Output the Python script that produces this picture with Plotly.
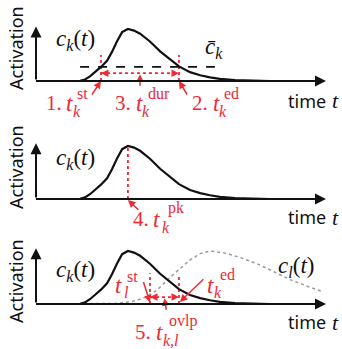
import plotly.graph_objects as go

W, H = 342, 349

# ---------------- data (time in arbitrary units, activation normalised) ----------------
t_ck = [0, 1.17, 1.52, 1.69, 1.86, 2.03, 2.24, 2.45, 2.62, 2.79, 2.97, 3.17, 3.38, 3.59,
        3.93, 4.28, 4.62, 4.93, 5.31, 5.66, 6.00, 6.34, 6.86, 7.38, 8.07, 9.0]
ck = [0, 0, 0.005, 0.03, 0.09, 0.17, 0.27, 0.39, 0.56, 0.76, 0.94, 1.0, 0.97, 0.91,
      0.76, 0.57, 0.41, 0.28, 0.17, 0.11, 0.07, 0.04, 0.015, 0.005, 0, 0]

t_cl = [0, 2.21, 2.72, 3.34, 3.76, 4.17, 4.72, 5.31, 5.66, 6.0, 6.52, 7.03, 7.62,
        8.24, 8.76, 9.38, 9.9]
cl = [0, 0, 0.01, 0.05, 0.12, 0.26, 0.55, 0.83, 0.95, 1.0, 0.96, 0.88, 0.76,
      0.6, 0.46, 0.33, 0.23]

threshold = 0.27
threshold_span = [1.52, 6.17]
t_st = 2.24
t_ed = 4.93
t_pk = 3.17
t_l_st = 3.93
t_end = 10.0
y_arrow_top = 1.05

# ---------------- layout helpers ----------------
PX0, SX = 36, 29.0
bases = [81, 199, 304]
scales = [52, 53, 53]
tops = [0, 118, 236]
bottoms = [118, 236, 349]

RED = "#ee2a35"
BLACK = "#111111"
SERIF = "Liberation Serif"
SANS = "Noto Sans"

fig = go.Figure()
layout = dict(width=W, height=H, margin=dict(l=0, r=0, t=0, b=0),
              paper_bgcolor="white", plot_bgcolor="white", showlegend=False)
for i in range(3):
    n = "" if i == 0 else str(i + 1)
    hi = (bases[i] - tops[i]) / scales[i]
    lo = -(bottoms[i] - bases[i]) / scales[i]
    layout["xaxis" + n] = dict(range=[-PX0 / SX, (W - PX0) / SX], domain=[0, 1],
                               visible=False, anchor="y" + n, fixedrange=True)
    layout["yaxis" + n] = dict(range=[lo, hi], domain=[1 - bottoms[i] / H, 1 - tops[i] / H],
                               visible=False, anchor="x" + n, fixedrange=True)
fig.update_layout(**layout)

ann = []


def P(px, py):
    return px / W, 1 - py / H


def text(s, px, py, size=20, color=RED, font=SERIF, xanchor="left", angle=0):
    x, y = P(px, py)
    ann.append(dict(text=s, x=x, y=y, xref="paper", yref="paper", showarrow=False,
                    xanchor=xanchor, yanchor="middle", textangle=angle, borderpad=0,
                    font=dict(size=size, color=color, family=font)))


def arrow(i, x, y, ax, ay, color=RED, width=1.5, head=2, size=1.0):
    n = "" if i == 0 else str(i + 1)
    ann.append(dict(text="", x=x, y=y, xref="x" + n, yref="y" + n, showarrow=True,
                    ax=ax, ay=ay, arrowcolor=color, arrowwidth=width, arrowhead=head,
                    arrowsize=size, standoff=0))


def axis_arrow(i, x, y, x0, y0):
    n = "" if i == 0 else str(i + 1)
    ann.append(dict(text="", x=x, y=y, ax=x0, ay=y0, xref="x" + n, yref="y" + n,
                    axref="x" + n, ayref="y" + n, showarrow=True, arrowcolor=BLACK,
                    arrowwidth=2, arrowhead=2, arrowsize=1.1, standoff=0))


def line(i, xs, ys, color=BLACK, width=2, dash="solid"):
    n = "" if i == 0 else str(i + 1)
    fig.add_trace(go.Scatter(x=xs, y=ys, mode="lines", xaxis="x" + n, yaxis="y" + n,
                             line=dict(color=color, width=width, dash=dash), hoverinfo="skip"))


def tlabel(prefix, sup, sub, x_pre, x_t, x_sup, x_sub, y_main, y_sup, y_sub):
    if prefix:
        text(prefix, x_pre, y_main, size=21)
    text("<i>t</i>", x_t, y_main, size=23)
    text(sup, x_sup, y_sup, size=16)
    text("<i>" + sub + "</i>", x_sub, y_sub, size=16)


# ---------------- panel 1 ----------------
line(0, [t_st, t_st], [0, 0.5], RED, 1.8, "dot")
line(0, [t_ed, t_ed], [0, 0.5], RED, 1.8, "dot")
line(0, [t_st, t_ed], [0.15, 0.15], RED, 1.8, "dot")
line(0, threshold_span, [threshold, threshold], BLACK, 1.8, "dash")
line(0, t_ck, ck, BLACK, 2.2)
arrow(0, t_ed, 0.15, -6, 0)
arrow(0, t_st, 0.15, 6, 0)
arrow(0, t_st, 0, -10, 15)
arrow(0, t_ed, 0, 9, 15)
arrow(0, (t_st + t_ed) / 2, 0.13, 0, 13)

# ---------------- panel 2 ----------------
line(1, [t_pk, t_pk], [0, 1.0], RED, 1.8, "dot")
line(1, t_ck, ck, BLACK, 2.2)
arrow(1, t_pk, -0.02, 12, 11)

# ---------------- panel 3 ----------------
line(2, t_cl, cl, "#9a9a9a", 1.5, "dot")
line(2, [t_l_st, t_l_st], [0, 0.58], RED, 1.8, "dot")
line(2, [t_ed, t_ed], [0, 0.51], RED, 1.8, "dot")
line(2, [t_l_st, t_ed], [0.13, 0.13], RED, 1.8, "dot")
line(2, t_ck, ck, BLACK, 2.2)
arrow(2, t_ed, 0.13, -6, 0)
arrow(2, t_l_st, 0.13, 6, 0)
arrow(2, t_l_st, 0.03, -7, -22)
arrow(2, t_ed + 0.03, 0.04, 25, -24)
arrow(2, (t_l_st + t_ed) / 2, 0.11, 2, 13)

for i in range(3):
    axis_arrow(i, t_end, 0, 0, 0)
    axis_arrow(i, 0, y_arrow_top, 0, 0)

# ---------------- texts ----------------
for py in [48, 167, 281]:
    text("Activation", 16, py, size=18, color=BLACK, font=SANS, xanchor="center", angle=-90)
for py in [101, 217, 322]:
    text("time", 287, py, size=18, color=BLACK, font=SANS)
    text("<i>t</i>", 340, py, size=22, color=BLACK, xanchor="right")

ck_txt = "<i>c</i><sub><i>k</i></sub>(<i>t</i>)"
text(ck_txt, 55, 40, size=23, color=BLACK)
text(ck_txt, 55, 159, size=23, color=BLACK)
text(ck_txt, 55, 271, size=23, color=BLACK)
text("<i>c</i><sub><i>l</i></sub>(<i>t</i>)", 277, 267, size=23, color=BLACK)
text("<i>c\u0304</i><sub><i>k</i></sub>", 204, 48, size=23, color=BLACK)

tlabel("1.", "st", "k", 45, 65, 76, 72, 103, 93, 111)
tlabel("3.", "dur", "k", 114, 135, 147, 141, 103, 93, 111)
tlabel("2.", "ed", "k", 191, 212, 223, 218, 103, 93, 111)
tlabel("4.", "pk", "k", 132, 152, 167, 161, 219, 208, 227)
tlabel("", "st", "l", 0, 114, 126, 123, 285, 276, 292)
tlabel("", "ed", "k", 0, 206, 219, 213, 285, 274, 292)
tlabel("5.", "ovlp", "k,l", 134, 155, 168, 162, 332, 321, 340)

fig.update_layout(annotations=ann)
fig.write_html("out.html", config={"displayModeBar": False},
               post_script="document.body.style.margin='0';document.body.style.padding='0';")
